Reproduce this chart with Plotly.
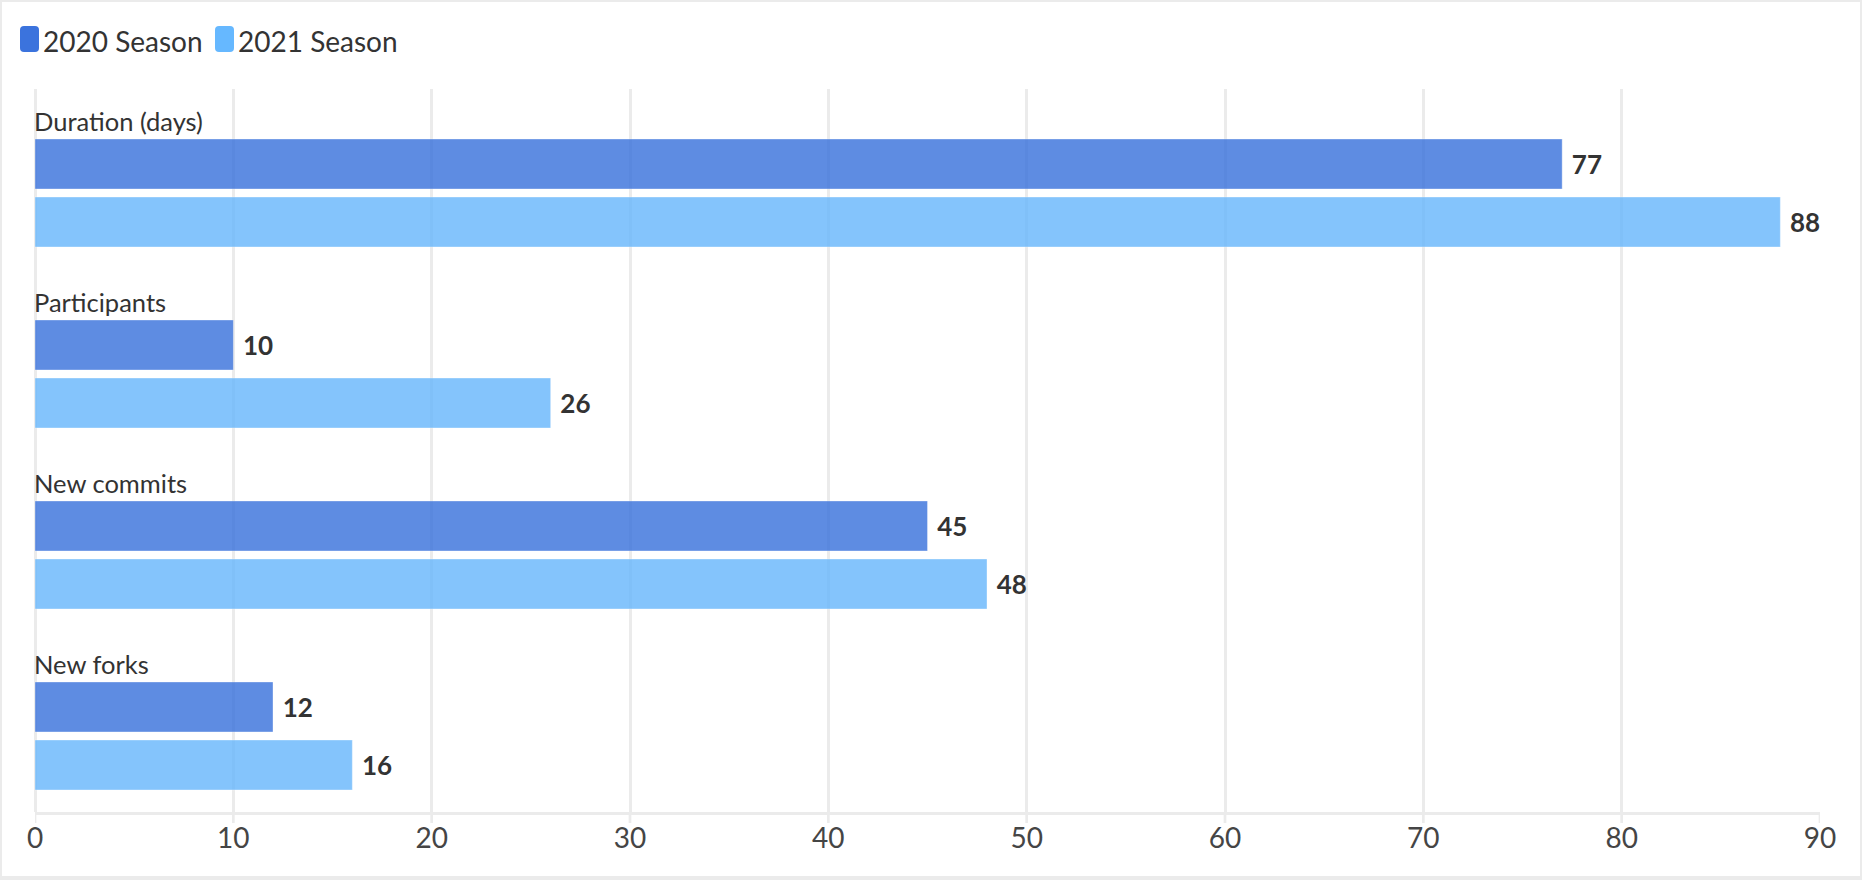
import plotly.graph_objects as go

categories = ["Duration (days)", "Participants", "New commits", "New forks"]
series_names = ["2020 Season", "2021 Season"]
values_2020 = [77, 10, 45, 12]
values_2021 = [88, 26, 48, 16]
x_ticks = [0, 10, 20, 30, 40, 50, 60, 70, 80, 90]

FIG_W, FIG_H = 1862, 880
L, R, T, B = 35, 42, 89, 68
PW = FIG_W - L - R
PH = FIG_H - T - B

def px(xp):
    return (xp - L) / PW

def py(yp):
    return (FIG_H - B - yp) / PH

FONT = "Lato"
GRID = "#ebebeb"
bar_colors = ["#3670dc", "#66b6fc"]
swatch_colors = ["#3b73dd", "#66b8ff"]

fig = go.Figure()
for name, vals, col in zip(series_names, [values_2020, values_2021], bar_colors):
    fig.add_trace(go.Bar(
        y=categories, x=vals, name=name, orientation="h",
        marker=dict(color=col, opacity=0.8,
                    line=dict(color="rgba(255,255,255,0.35)", width=1)),
        texttemplate="\u00a0<b>%{x}</b>", textposition="outside",
        textfont=dict(family=FONT, size=26, color="#333333"),
        constraintext="none", cliponaxis=False, hoverinfo="skip",
        showlegend=False,
    ))

annotations = []
for i, c in enumerate(categories):
    annotations.append(dict(
        x=0, y=i, xref="x", yref="y", text=c, showarrow=False,
        xanchor="left", yanchor="bottom", xshift=-3, yshift=55,
        font=dict(family=FONT, size=25.5, color="#333333"),
    ))

def rounded_rect(x0, y0, x1, y1, r):
    pts = [
        ("M", [(x0 + r, y0)]),
        ("L", [(x1 - r, y0)]),
        ("Q", [(x1, y0), (x1, y0 + r)]),
        ("L", [(x1, y1 - r)]),
        ("Q", [(x1, y1), (x1 - r, y1)]),
        ("L", [(x0 + r, y1)]),
        ("Q", [(x0, y1), (x0, y1 - r)]),
        ("L", [(x0, y0 + r)]),
        ("Q", [(x0, y0), (x0 + r, y0)]),
    ]
    s = ""
    for cmd, ps in pts:
        s += cmd + " " + " ".join(f"{px(a):.6f},{py(b):.6f}" for a, b in ps) + " "
    return s + "Z"

shapes = []
legend_x = [20, 215]
for name, col, lx in zip(series_names, swatch_colors, legend_x):
    shapes.append(dict(type="path", xref="paper", yref="paper",
                       path=rounded_rect(lx, 26, lx + 19, 52, 4),
                       fillcolor=col, line=dict(width=0), layer="above"))
    annotations.append(dict(
        x=px(lx + 21), y=py(40.5), xref="paper", yref="paper", text=name,
        showarrow=False, xanchor="left", yanchor="middle",
        font=dict(family=FONT, size=28, color="#333333"),
    ))

# tick marks protruding below the axis line
for v in x_ticks:
    shapes.append(dict(type="line", xref="x", yref="paper",
                       x0=v, x1=v, y0=0, y1=py(823),
                       line=dict(color=GRID, width=2.7), layer="below"))

# outer frame
shapes.append(dict(type="rect", xref="paper", yref="paper",
                   x0=px(0), x1=px(FIG_W), y0=py(FIG_H), y1=py(0),
                   line=dict(color=GRID, width=4), fillcolor="rgba(0,0,0,0)",
                   layer="above"))
shapes.append(dict(type="rect", xref="paper", yref="paper",
                   x0=px(0), x1=px(FIG_W), y0=py(FIG_H), y1=py(FIG_H - 4),
                   line=dict(width=0), fillcolor=GRID, layer="above"))

fig.update_layout(
    width=FIG_W, height=FIG_H,
    margin=dict(l=L, r=R, t=T, b=B, pad=0),
    paper_bgcolor="white", plot_bgcolor="white",
    barmode="group", bargap=0.359, bargroupgap=0.138,
    font=dict(family=FONT, color="#333333"),
    shapes=shapes, annotations=annotations,
    showlegend=False,
)
fig.update_xaxes(
    range=[0, 90], tickvals=x_ticks, ticktext=[str(v) for v in x_ticks],
    showgrid=True, gridcolor=GRID, gridwidth=2.7,
    zeroline=True, zerolinecolor=GRID, zerolinewidth=2.7,
    showline=True, linecolor=GRID, linewidth=2.7,
    ticks="",
    tickfont=dict(family=FONT, size=28, color="#454545"),
    fixedrange=True,
)
fig.update_yaxes(
    type="category", categoryorder="array", categoryarray=categories,
    range=[3.42, -0.5746], showticklabels=False, showgrid=False,
    zeroline=False, showline=False, ticks="", fixedrange=True,
)

fig.write_html(
    "out.html",
    config={"displayModeBar": False},
    post_script="document.body.style.margin='0';document.body.style.overflow='hidden';",
)
